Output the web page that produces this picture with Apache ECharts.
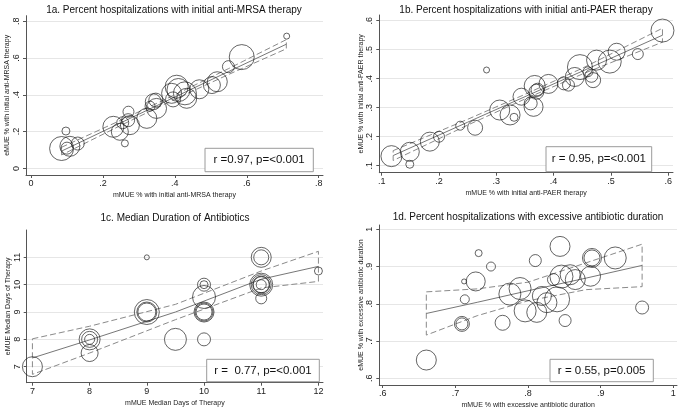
<!DOCTYPE html>
<html><head><meta charset="utf-8">
<script src="https://cdn.jsdelivr.net/npm/echarts@6/dist/echarts.min.js"></script>
<style>html,body{margin:0;padding:0;background:#fff}#c{width:685px;height:410px}</style>
</head><body><div id="c"></div>
<script>
// ---- Panel 1a : initial anti-MRSA therapy ----
const aX = [.085,.097,.108,.13,.10,.229,.247,.255,.27,.271,.275,.261,.322,.331,.349,.34,.347,.391,.395,.405,.428,.41,.433,.468,.503,.518,.549,.586,.711];
const aY = [.108,.203,.12,.135,.11,.226,.199,.248,.262,.308,.235,.136,.272,.338,.326,.362,.371,.408,.375,.444,.408,.426,.381,.43,.453,.471,.553,.605,.719];
const aW = [576,64,400,169,144,441,289,144,169,121,361,49,400,100,400,256,196,400,225,529,529,529,400,361,289,400,144,625,36];
const aFitX = [.085,.25,.40,.55,.71];
const aFit  = [.094,.248,.388,.527,.675];
const aHi   = [.115,.262,.40,.543,.70];
const aLo   = [.073,.234,.376,.511,.65];

// ---- Panel 1b : initial anti-PAER therapy ----
const bX = [.117,.149,.149,.184,.2,.237,.263,.283,.306,.324,.331,.344,.36,.365,.367,.37,.372,.391,.418,.426,.437,.446,.46,.466,.469,.475,.498,.51,.547,.59];
const bY = [.133,.148,.105,.183,.2,.238,.231,.43,.292,.275,.267,.338,.315,.303,.375,.355,.362,.382,.384,.378,.406,.44,.424,.41,.395,.464,.459,.493,.485,.566];
const bW = [441,361,64,361,121,81,225,36,400,400,64,289,169,361,441,225,169,361,169,144,361,625,100,169,225,400,529,289,121,529];
const bFitX = [.12,.25,.35,.45,.59];
const bFit  = [.135,.25,.338,.426,.55];
const bHi   = [.152,.26,.346,.436,.574];
const bLo   = [.118,.24,.33,.416,.526];

// ---- Panel 1c : median duration of antibiotics ----
const cX = [7,8,8,8,8,9,9,9,9,9.5,10,10,10,10,10,10,10,11,11,11,11,11,11,11,11,12];
const cY = [7,8,8,8,7.5,11,9,9,9,8,8,10,10,9.55,9,9,9,11,11,10,10,10,10,10,9.5,10.5];
const cW = [400,441,256,100,289,25,625,400,324,484,169,169,64,529,400,324,256,400,225,529,400,289,256,100,121,64];
const cFitX = [7,8,9.5,11,12];
const cFit  = [7.32,7.98,9.0,10.2,10.67];
const cHi   = [8.02,8.48,9.28,10.5,11.22];
const cLo   = [6.72,7.5,8.72,9.88,10.12];

// ---- Panel 1d : excessive antibiotic duration ----
const dX = [.66,.709,.709,.713,.712,.732,.728,.749,.765,.775,.789,.796,.81,.812,.819,.826,.835,.84,.844,.846,.851,.858,.865,.886,.888,.888,.92,.957];
const dY = [.649,.746,.746,.812,.86,.936,.86,.9,.749,.826,.841,.781,.916,.777,.821,.803,.865,.812,.954,.873,.755,.878,.865,.874,.923,.923,.923,.79];
const dW = [400,225,144,81,25,49,361,81,225,484,484,484,144,400,361,400,144,625,400,529,144,400,400,400,361,256,484,169];
const dFitX = [.66,.73,.8,.88,.957];
const dFit  = [.774,.804,.835,.869,.903];
const dHi   = [.832,.84,.858,.91,.96];
const dLo   = [.716,.768,.808,.838,.846];

// tick values
const aXT=[0,.2,.4,.6,.8], aYT=[0,.2,.4,.6,.8];
const bXT=[.1,.2,.3,.4,.5,.6], bYT=[.1,.2,.3,.4,.5,.6];
const cXT=[7,8,9,10,11,12], cYT=[7,8,9,10,11];
const dXT=[.6,.7,.8,.9,1], dYT=[.6,.7,.8,.9,1];

const titles = ['1a. Percent hospitalizations with initial anti-MRSA therapy',
  '1b. Percent hospitalizations with initial anti-PAER therapy',
  '1c. Median Duration of Antibiotics',
  '1d. Percent hospitalizations with excessive antibiotic duration'];
const stats = ['r =0.97, p=<0.001','r = 0.95, p=<0.001','r =  0.77, p=<0.001','r = 0.55, p=0.005'];
const xNames = ['mMUE % with initial anti-MRSA therapy','mMUE % with initial anti-PAER therapy','mMUE Median Days of Therapy','mMUE % with excessive antibiotic duration'];
const yNames = ['eMUE % with initial anti-MRSA therapy','eMUE % with initial anti-PAER therapy','eMUE Median Days of Therapy','eMUE % with excessive antibiotic duration'];

const FONT = '"Liberation Sans", Arial, sans-serif';
const fmt = v => String(+v.toFixed(4)).replace(/^0\./,'.');

const grids = [
  {left:26, top:15.7, width:297, height:159.3},
  {left:379.3, top:15, width:293.7, height:157.7},
  {left:26.7, top:230, width:296.3, height:152.7},
  {left:379.3, top:225, width:297.7, height:161.7}
];
const xr = [[-0.014,0.812],[0.0958,0.6084],[6.90,12.08],[0.5953,1.005]];
const yr = [[-0.036,0.83],[0.0759,0.6197],[6.415,12.0],[0.582,1.0115]];
const xt = [aXT,bXT,cXT,dXT], yt=[aYT,bYT,cYT,dYT];

function xAxis(i){
  return {type:'value', gridIndex:i, min:xr[i][0], max:xr[i][1],
    name:xNames[i], nameLocation:'middle', nameGap:17,
    nameTextStyle:{fontSize:7, color:'#222', fontFamily:FONT},
    axisLine:{onZero:false, lineStyle:{color:'#555', width:1}},
    axisTick:{customValues:xt[i], length:3, lineStyle:{color:'#555'}},
    axisLabel:{customValues:xt[i], formatter:fmt, fontSize:9, margin:4, color:'#222', fontFamily:FONT},
    splitLine:{show:false}};
}
function yAxis(i){
  return {type:'value', gridIndex:i, min:yr[i][0], max:yr[i][1],
    name:yNames[i], nameLocation:'middle', nameGap:15, nameRotate:90,
    nameTextStyle:{fontSize:7, color:'#222', fontFamily:FONT},
    axisLine:{onZero:false, lineStyle:{color:'#555', width:1}},
    axisTick:{customValues:yt[i], length:3, lineStyle:{color:'#555'}},
    axisLabel:{customValues:yt[i], formatter:fmt, rotate:90, fontSize:9, margin:5, color:'#222', fontFamily:FONT},
    splitLine:{show:true, lineStyle:{color:'#e6e6e6', width:1}}};
}

const sets = [[aX,aY,aW,aFitX,aFit,aHi,aLo],[bX,bY,bW,bFitX,bFit,bHi,bLo],[cX,cY,cW,cFitX,cFit,cHi,cLo],[dX,dY,dW,dFitX,dFit,dHi,dLo]];
const series = [];
sets.forEach((s,i)=>{
  const [X,Y,W,FX,F,H,L] = s;
  const ci = [];
  FX.forEach((x,k)=>ci.push([x,H[k]]));
  for(let k=FX.length-1;k>=0;k--) ci.push([FX[k],L[k]]);
  ci.push([FX[0],H[0]]);
  series.push({type:'line', xAxisIndex:i, yAxisIndex:i, data:ci, showSymbol:false, symbol:'none', silent:true, z:1,
    lineStyle:{color:'#8a8a8a', width:1, type:[6,3]}});
  series.push({type:'line', xAxisIndex:i, yAxisIndex:i, data:FX.map((x,k)=>[x,F[k]]), showSymbol:false, symbol:'none', silent:true, z:2,
    lineStyle:{color:'#777', width:1}});
  series.push({type:'scatter', xAxisIndex:i, yAxisIndex:i, data:X.map((x,k)=>[x,Y[k],W[k]]), silent:true, z:3,
    symbol:'circle', symbolSize:v=>Math.sqrt(v[2]),
    itemStyle:{color:'rgba(0,0,0,0)', borderColor:'#1a1a1a', borderWidth:0.85}});
});

const titlePos = [[174,10],[526,10],[175,218],[528,217]];
const boxes = [[205,148.3,108.3,23.4],[546,146.7,105.7,25],[206.7,359.3,112.6,22.4],[550,359.3,103.3,22.4]];
const graphic = [];
titles.forEach((t,i)=>graphic.push({type:'text', x:titlePos[i][0], y:titlePos[i][1],
  style:{text:t, fontSize:10, fontFamily:FONT, fill:'#111', textAlign:'center', textVerticalAlign:'middle'}}));
boxes.forEach((b,i)=>{
  graphic.push({type:'rect', shape:{x:b[0],y:b[1],width:b[2],height:b[3]}, style:{fill:'#fff', stroke:'#9a9a9a', lineWidth:1}, z:10});
  graphic.push({type:'text', x:b[0]+b[2]/2, y:b[1]+b[3]/2, z:11,
    style:{text:stats[i], fontSize:11.5, fontFamily:FONT, fill:'#111', textAlign:'center', textVerticalAlign:'middle'}});
});

const chart = echarts.init(document.getElementById('c'), null, {renderer:'canvas'});
chart.setOption({
  animation:false, backgroundColor:'#fff',
  grid:grids, xAxis:[0,1,2,3].map(xAxis), yAxis:[0,1,2,3].map(yAxis),
  series, graphic
});
</script></body></html>
